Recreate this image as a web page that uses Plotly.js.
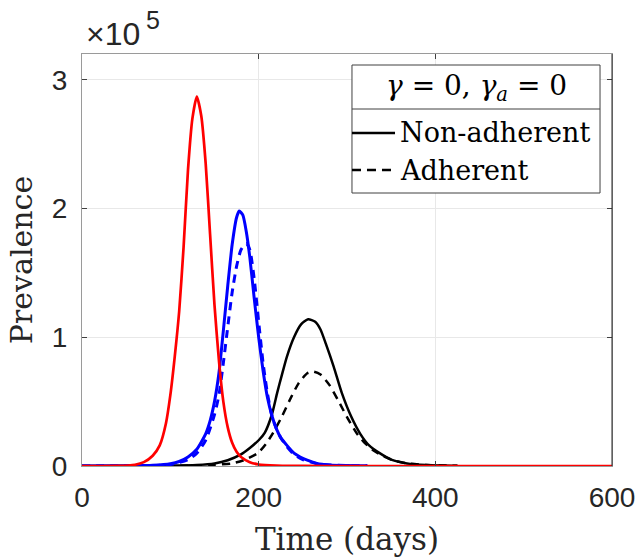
<!DOCTYPE html>
<html>
<head>
<meta charset="utf-8">
<script src="https://cdn.plot.ly/plotly-3.0.1.min.js"></script>
<style>html,body{margin:0;padding:0;background:#fff;}#chart{width:637px;height:560px;}</style>
</head>
<body>
<div id="chart"></div>
<script>
// ---- data (prevalence in units of 1e5) ----
const redDays   = [0, 40, 60, 70, 80, 88, 95, 100, 105, 110, 115, 120, 125, 130, 135, 140, 145, 150, 155, 160, 165, 170, 175, 180, 190, 200, 220, 250, 300, 600];
const redVals   = [0, 0.0005, 0.01, 0.03, 0.08, 0.16, 0.33, 0.55, 0.85, 1.2, 1.7, 2.3, 2.7, 2.87, 2.72, 2.35, 1.8, 1.25, 0.82, 0.5, 0.3, 0.18, 0.11, 0.07, 0.03, 0.012, 0.003, 0.0005, 0, 0];

const blueDays  = [0, 60, 80, 100, 110, 120, 130, 140, 145, 150, 155, 160, 165, 170, 175, 178, 182, 186, 190, 195, 200, 205, 210, 215, 220, 225, 232, 240, 247, 255, 266, 280, 300, 323];
const blueVals  = [0, 0.002, 0.006, 0.018, 0.035, 0.07, 0.13, 0.25, 0.35, 0.5, 0.72, 1.05, 1.4, 1.72, 1.93, 1.98, 1.95, 1.82, 1.62, 1.3, 1.0, 0.74, 0.53, 0.39, 0.29, 0.22, 0.16, 0.1, 0.07, 0.045, 0.02, 0.008, 0.003, 0.001];

const blueDDays = [0, 100, 120, 130, 140, 150, 155, 160, 165, 170, 175, 180, 186, 190, 195, 200, 205, 210, 215, 220, 225, 232, 240, 250, 265, 280, 300, 323];
const blueDVals = [0, 0.012, 0.05, 0.1, 0.2, 0.4, 0.55, 0.8, 1.08, 1.35, 1.55, 1.68, 1.73, 1.68, 1.45, 1.12, 0.8, 0.56, 0.39, 0.29, 0.22, 0.15, 0.09, 0.05, 0.02, 0.008, 0.003, 0.001];

const blackDays = [0, 100, 130, 150, 165, 180, 190, 200, 207, 215, 221, 226, 232, 240, 248, 256, 264, 270, 276, 285, 294, 305, 315, 325, 337, 350, 368, 390, 425];
const blackVals = [0, 0.003, 0.008, 0.02, 0.045, 0.09, 0.14, 0.2, 0.26, 0.4, 0.57, 0.7, 0.85, 1.0, 1.1, 1.14, 1.12, 1.06, 0.95, 0.77, 0.57, 0.38, 0.25, 0.16, 0.1, 0.05, 0.02, 0.008, 0.002];

const blackDDays = [0, 120, 150, 170, 185, 199, 208, 216, 226, 235, 245, 255, 262, 270, 280, 290, 300, 311, 320, 330, 340, 350, 368, 390, 425];
const blackDVals = [0, 0.002, 0.01, 0.02, 0.05, 0.1, 0.17, 0.254, 0.38, 0.51, 0.64, 0.72, 0.733, 0.71, 0.63, 0.51, 0.38, 0.254, 0.18, 0.12, 0.08, 0.05, 0.02, 0.008, 0.002];

const xTicks = [0, 200, 400, 600];
const yTicks = [0, 1, 2, 3];
const SCALE = 1e5;

const legendTitle = '<i>γ</i> = 0, <i>γ</i><sub><i>a</i></sub> = 0';
const legendNames = ['Non-adherent', 'Adherent'];

function sc(a){ return a.map(v => v * SCALE); }

const serif = 'DejaVu Serif, serif';
const sans = 'Liberation Sans, Arial, sans-serif';

const traces = [
  {x: blackDDays, y: sc(blackDVals), mode: 'lines', line: {color: '#000', width: 2.5, dash: '8px,6px'}, name: legendNames[1]},
  {x: blackDays, y: sc(blackVals), mode: 'lines', line: {color: '#000', width: 2.5}, name: legendNames[0]},
  {x: blueDays, y: sc(blueVals), mode: 'lines', line: {color: '#0000ff', width: 3}, name: 'blue'},
  {x: blueDDays, y: sc(blueDVals), mode: 'lines', line: {color: '#0000ff', width: 3, dash: '8px,6px'}, name: 'blue adherent'},
  {x: redDays, y: sc(redVals), mode: 'lines', line: {color: '#ff0000', width: 2.7}, name: 'red'}
];
traces.forEach(t => { t.showlegend = false; t.line.shape = 'spline'; t.line.smoothing = 0.6; t.hoverinfo = 'skip'; });

// legend geometry in paper coords
const lx0 = 0.5094, lx1 = 0.9774, ly0 = 0.6626, ly1 = 0.9733, lsep = 0.8665;
const e1y = 0.8083, e2y = 0.7184, sx0 = 0.5094, sx1 = 0.5906, tx = 0.5962;

const layout = {
  width: 637, height: 560,
  margin: {l: 82, r: 25, t: 54, b: 94},
  paper_bgcolor: '#fff', plot_bgcolor: '#fff',
  showlegend: false,
  xaxis: {
    range: [0, 600], tickvals: xTicks, ticktext: xTicks.map(String),
    showgrid: true, gridcolor: '#e8e8e8', gridwidth: 1, zeroline: false,
    showline: true, linecolor: '#9a9a9a', linewidth: 1, mirror: 'ticks',
    ticks: 'inside', ticklen: 5, tickcolor: '#404040', tickwidth: 1,
    tickfont: {family: sans, size: 28, color: '#262626'}, ticklabelstandoff: 6,
    title: {text: 'Time (days)', font: {family: serif, size: 31, color: '#262626'}, standoff: 16}
  },
  yaxis: {
    range: [0, 3.2e5], tickvals: yTicks.map(v => v * SCALE), ticktext: yTicks.map(String),
    showgrid: true, gridcolor: '#e8e8e8', gridwidth: 1, zeroline: false,
    showline: true, linecolor: '#9a9a9a', linewidth: 1, mirror: 'ticks',
    ticks: 'inside', ticklen: 5, tickcolor: '#404040', tickwidth: 1,
    tickfont: {family: sans, size: 28, color: '#262626'}, ticklabelstandoff: 8,
    title: {text: 'Prevalence', font: {family: serif, size: 30, color: '#262626'}, standoff: 10}
  },
  shapes: [
    {type: 'line', xref: 'paper', yref: 'paper', x0: 1, x1: 1, y0: 0, y1: 1, line: {color: '#262626', width: 1}},
    {type: 'rect', xref: 'paper', yref: 'paper', x0: lx0, x1: lx1, y0: ly0, y1: ly1, fillcolor: '#fff', line: {color: '#404040', width: 1}, layer: 'above'},
    {type: 'line', xref: 'paper', yref: 'paper', x0: lx0, x1: lx1, y0: lsep, y1: lsep, line: {color: '#404040', width: 1}, layer: 'above'},
    {type: 'line', xref: 'paper', yref: 'paper', x0: sx0, x1: sx1, y0: e1y, y1: e1y, line: {color: '#000', width: 2.5}, layer: 'above'},
    {type: 'line', xref: 'paper', yref: 'paper', x0: sx0, x1: sx1, y0: e2y, y1: e2y, line: {color: '#000', width: 2.5, dash: '9px,6px'}, layer: 'above'}
  ],
  annotations: [
    {xref: 'paper', yref: 'paper', x: (lx0 + lx1) / 2, y: (ly1 + lsep) / 2, xanchor: 'center', yanchor: 'middle', showarrow: false,
     text: legendTitle, font: {family: serif, size: 28, color: '#000'}},
    {xref: 'paper', yref: 'paper', x: tx, y: e1y, xanchor: 'left', yanchor: 'middle', showarrow: false,
     text: legendNames[0], font: {family: serif, size: 27, color: '#000'}},
    {xref: 'paper', yref: 'paper', x: tx, y: e2y, xanchor: 'left', yanchor: 'middle', showarrow: false,
     text: legendNames[1], font: {family: serif, size: 27, color: '#000'}},
    {xref: 'paper', yref: 'paper', x: 0, y: 1, xanchor: 'left', yanchor: 'bottom', xshift: 2, yshift: 0, showarrow: false,
     text: '×10', font: {family: sans, size: 32, color: '#262626'}},
    {xref: 'paper', yref: 'paper', x: 0, y: 1, xanchor: 'left', yanchor: 'bottom', xshift: 62, yshift: 18, showarrow: false,
     text: '5', font: {family: sans, size: 25, color: '#262626'}}
  ]
};

Plotly.newPlot('chart', traces, layout, {staticPlot: true, displayModeBar: false});
</script>
</body>
</html>
